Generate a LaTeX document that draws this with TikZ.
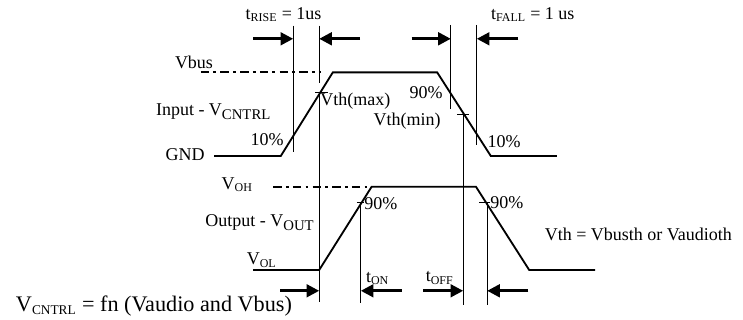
\documentclass[tikz,border=0pt]{standalone}
\usepackage{fontspec}
\setmainfont{Liberation Serif}
\usetikzlibrary{arrows.meta}
\newcommand{\lsub}[1]{\textsubscript{\fontsize{8.5}{9}\selectfont #1}}
\newcommand{\bsub}[1]{\raisebox{-0.45ex}{\fontsize{10.5}{11}\selectfont #1}}

\begin{document}
\begin{tikzpicture}[every node/.style={font=\fontsize{12.8}{14}\selectfont,inner sep=0pt},
    wave/.style={line width=1.3pt},
    marker/.style={line width=0.9pt},
    dashdot/.style={line width=1.3pt,dash pattern=on 6pt off 3pt on 2pt off 3pt},
    timearrow/.style={line width=2pt,-{Triangle[length=9pt,width=9pt]}}]
    \useasboundingbox (0,0) rectangle (18.575,8);
    % input signal
    \draw[wave] (5.35,4.1) -- (7.02,4.1) -- (8.32,6.19) -- (10.93,6.19) -- (12.27,4.1) -- (13.92,4.1);
    \draw[dashdot] (5.02,6.19) -- (8.03,6.19);
    \node (vbus) at (4.85,6.43) {Vbus};
    \node (input) at (5.33,5.2) {Input - V\bsub{CNTRL}};
    \node (gnd) at (4.63,4.13) {GND};
    \node (rlow) at (6.68,4.5) {10\%};
    \node[anchor=west] (vthmax) at (8.0,5.46) {Vth(max)};
    \node (vthmin) at (10.18,4.96) {Vth(min)};
    \node (fhigh) at (10.65,5.68) {90\%};
    \node (flow) at (12.6,4.46) {10\%};
    % rise and fall markers
    \draw[marker] (7.33,7.36) -- (7.33,4.21);
    \draw[marker] (7.98,7.36) -- (7.98,5.93);
    \draw[marker] (7.88,5.68) -- (8.21,5.68);
    \draw[marker] (7.98,5.68) -- (7.98,0.45);
    \draw[marker] (11.27,7.38) -- (11.27,5.27);
    \draw[marker] (11.92,7.38) -- (11.92,4.38);
    \draw[marker] (11.43,5.13) -- (11.73,5.13);
    \draw[marker] (11.58,5.13) -- (11.58,0.38);
    \draw[timearrow] (6.33,7.03) -- (7.33,7.03);
    \draw[timearrow] (9.0,7.03) -- (7.98,7.03);
    \draw[timearrow] (10.29,7.03) -- (11.27,7.03);
    \draw[timearrow] (12.96,7.03) -- (11.92,7.03);
    \node (trise) at (7.09,7.63) {t\lsub{RISE} = 1us};
    \node (tfall) at (13.32,7.63) {t\lsub{FALL} = 1 us};
    % output signal
    \draw[wave] (6.33,1.25) -- (7.98,1.25) -- (9.29,3.33) -- (11.9,3.33) -- (13.23,1.25) -- (14.88,1.25);
    \draw[dashdot] (6.83,3.33) -- (9.28,3.33);
    \node (voh) at (5.93,3.38) {V\lsub{OH}};
    \node (output) at (6.49,2.43) {Output - V\bsub{OUT}};
    \node (vol) at (6.54,1.5) {V\lsub{OL}};
    \node[anchor=west] (ohigh) at (9.1,2.92) {90\%};
    \node[anchor=west] (ofall) at (12.25,2.93) {90\%};
    % on and off markers
    \draw[marker] (8.92,2.93) -- (9.1,2.93);
    \draw[marker] (9.02,2.93) -- (9.02,0.42);
    \draw[marker] (11.98,2.93) -- (12.25,2.93);
    \draw[marker] (12.18,2.93) -- (12.18,0.38);
    \draw[timearrow] (7.0,0.73) -- (7.98,0.73);
    \draw[timearrow] (10.04,0.73) -- (9.02,0.73);
    \draw[timearrow] (10.58,0.73) -- (11.58,0.73);
    \draw[timearrow] (13.21,0.73) -- (12.18,0.73);
    \node (ton) at (9.44,1.04) {t\lsub{ON}};
    \node (toff) at (10.99,1.05) {t\lsub{OFF}};
    % notes
    \node (vth) at (15.96,2.13) {Vth = Vbusth or Vaudioth};
    \node[font=\fontsize{15.8}{17}\selectfont] (fn) at (3.85,0.36) {V\textsubscript{\fontsize{9.5}{10}\selectfont CNTRL} = fn (Vaudio and Vbus)};
\end{tikzpicture}
\end{document}
